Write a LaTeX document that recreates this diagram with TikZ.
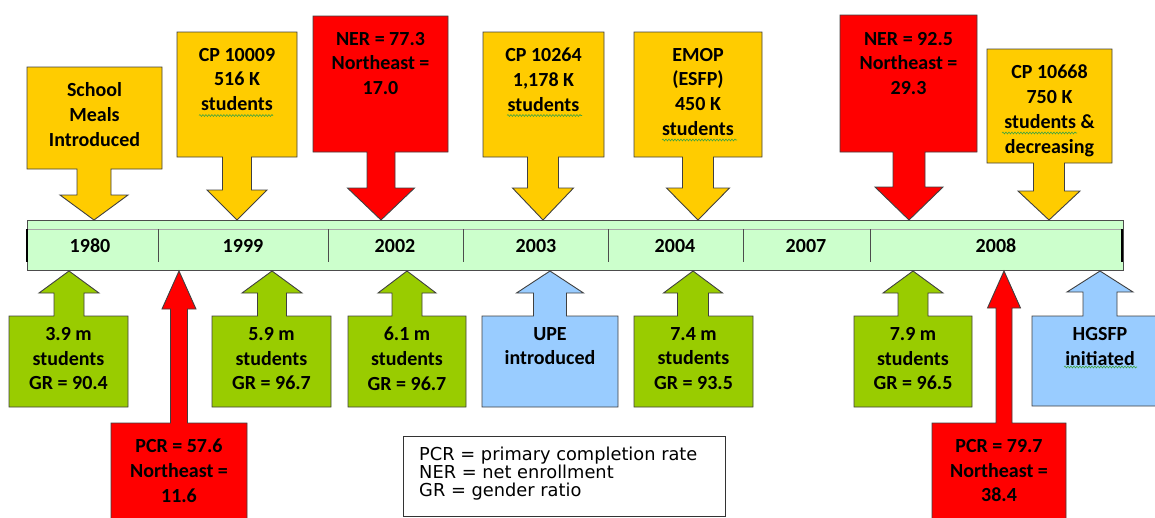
\documentclass[tikz,border=0pt]{standalone}
\usepackage{fontspec}
\setmainfont{Carlito}
\newfontfamily\legfont{DejaVu Sans}
\usetikzlibrary{decorations.pathmorphing}
\definecolor{cyel}{HTML}{FFCC00}
\definecolor{cred}{HTML}{FF0000}
\definecolor{cgrn}{HTML}{99CC00}
\definecolor{cblu}{HTML}{99CCFF}
\definecolor{cbar}{HTML}{CCFFCC}
\definecolor{csq}{HTML}{3FA33F}
% top callout: color, L, R, T, B, cx, shaft half width, head half width, head base y
\newcommand\tcall[9]{%
  \filldraw[callout, fill=#1] (#2,#4) -- (#3,#4) -- (#3,#5) -- ({#6+#7},#5) -- ({#6+#7},#9)
   -- ({#6+#8},#9) -- (#6,220) -- ({#6-#8},#9) -- ({#6-#7},#9) -- ({#6-#7},#5) -- (#2,#5) -- cycle;}
% bottom callout
\newcommand\bcall[9]{%
  \filldraw[callout, fill=#1] (#2,#5) -- (#3,#5) -- (#3,#4) -- ({#6+#7},#4) -- ({#6+#7},#9)
   -- ({#6+#8},#9) -- (#6,271) -- ({#6-#8},#9) -- ({#6-#7},#9) -- ({#6-#7},#4) -- (#2,#4) -- cycle;}
\begin{document}
\begin{tikzpicture}[x=1pt,y=-1pt,
  callout/.style={draw=black!75, line width=0.9pt, line join=miter},
  ctext/.style={anchor=north, align=center, inner sep=0pt,
     font=\fontsize{20}{24.8}\selectfont\bfseries, execute at begin node=\strut},
  year/.style={inner sep=0pt, font=\fontsize{20}{24}\selectfont\bfseries},
  squig/.style={draw=csq, line width=0.6pt, decorate,
     decoration={snake, segment length=3pt, amplitude=0.9pt}}]
\useasboundingbox (0,0) rectangle (1155,517);
\clip (0,0) rectangle (1155,517);

% timeline bar
\filldraw[fill=cbar, draw=black!70, line width=0.9pt] (27,220) rectangle (1123,270);
\draw[black!35, line width=0.7pt] (28,229) -- (1122,229);
\draw[black, line width=1.8pt] (27,229) -- (27,262);
\draw[black, line width=1.8pt] (1122,229) -- (1122,262);
\foreach \x in {158,328,463,608,743,870}
  \draw[black!70, line width=0.8pt] (\x,229) -- (\x,262);
\node[year] (y1980) at (90,246) {1980};
\node[year] (y1999) at (243,246) {1999};
\node[year] (y2002) at (395,246) {2002};
\node[year] (y2003) at (536,246) {2003};
\node[year] (y2004) at (675,246) {2004};
\node[year] (y2007) at (806,246) {2007};
\node[year] (y2008) at (996,246) {2008};

% top callouts
\tcall{cyel}{27}{162}{67}{169}{94}{17}{34}{195}
\tcall{cyel}{177}{297}{32}{157}{237}{14.5}{30}{190}
\tcall{cred}{313}{448}{16}{152}{381}{14}{33.5}{188}
\tcall{cyel}{483}{604}{32}{157}{543}{15.5}{30.5}{188}
\tcall{cyel}{634}{762}{32}{157}{698}{15.5}{31.5}{188}
\tcall{cred}{840}{977}{15}{152}{909}{16}{34}{187}
\tcall{cyel}{987}{1112}{49}{163}{1049}{15.5}{31}{191}

\node[ctext] (sm) at (94.5,82.6) {School\\Meals\\Introduced};
\node[ctext] (cp1) at (237,47.8) {CP 10009\\516 K\\students};
\node[ctext] (ner1) at (380.5,31.8) {NER = 77.3\\Northeast =\\17.0};
\node[ctext] (cp2) at (543.5,47.8) {CP 10264\\1,178 K\\students};
\node[ctext] (emop) at (698,47.8) {EMOP\\(ESFP)\\450 K\\students};
\node[ctext] (ner2) at (908.5,31.8) {NER = 92.5\\Northeast =\\29.3};
\node[ctext] (cp3) at (1049.5,64.6) {CP 10668\\750 K\\students \&\\decreasing};

% bottom callouts
\bcall{cgrn}{9}{128}{316}{407}{69}{15}{30}{293}
\bcall{cred}{111}{247}{423}{530}{179}{8.5}{17}{309}
\bcall{cgrn}{212}{331}{316}{407}{272}{14.5}{30}{293}
\bcall{cgrn}{348}{466}{316}{407}{407}{15}{29}{293}
\bcall{cblu}{482}{618}{316}{407}{550}{16.5}{33.5}{293}
\bcall{cgrn}{634}{753}{316}{407}{693}{15.5}{29.5}{293}
\bcall{cgrn}{854}{972}{316}{407}{913}{15}{30}{293}
\bcall{cred}{932}{1066}{423}{530}{1004}{8}{16.5}{308}
\bcall{cblu}{1032}{1180}{316}{406}{1100}{17}{33}{292}

\node[ctext] (g1) at (68.5,326.9) {3.9 m\\students\\GR = 90.4};
\node[ctext] (pcr1) at (179,438.9) {PCR = 57.6\\Northeast =\\11.6};
\node[ctext] (g2) at (271.5,326.9) {5.9 m\\students\\GR = 96.7};
\node[ctext] (g3) at (407,326.9) {6.1 m\\students\\GR = 96.7};
\node[ctext] (upe) at (550,326.9) {UPE\\introduced};
\node[ctext] (g4) at (693.5,326.9) {7.4 m\\students\\GR = 93.5};
\node[ctext] (g5) at (913,326.9) {7.9 m\\students\\GR = 96.5};
\node[ctext] (pcr2) at (999,438.9) {PCR = 79.7\\Northeast =\\38.4};
\node[ctext] (hg) at (1100,326.9) {HGSFP\\initiated};

% spell-check squiggles
\draw[squig] (199,115.5) -- (273,115.5);
\draw[squig] (507,115.5) -- (582,115.5);
\draw[squig] (662,140) -- (737,140);
\draw[squig] (1002,133) -- (1077,133);
\draw[squig] (1064,367) -- (1137,367);

% legend
\draw[black!80, line width=0.8pt, fill=white] (403,436) rectangle (725,516);
\node[anchor=north west, align=left, inner sep=0pt,
  font=\legfont\fontsize{17.8}{18}\selectfont, execute at begin node=\strut] (leg) at (419,446.8)
  {PCR = primary completion rate\\NER = net enrollment\\GR = gender ratio};
\end{tikzpicture}
\end{document}
